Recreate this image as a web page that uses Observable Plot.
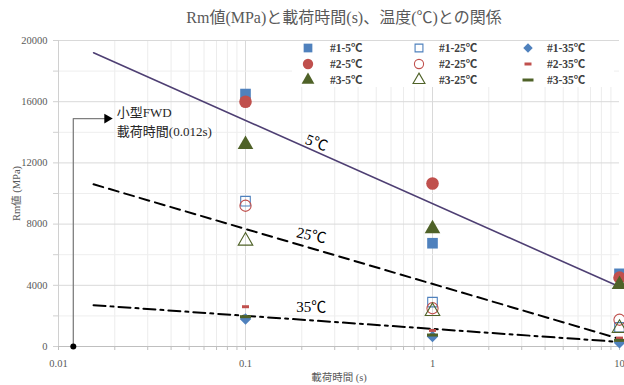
<!DOCTYPE html>
<html><head><meta charset="utf-8">
<script src="https://cdn.jsdelivr.net/npm/d3@7"></script>
<script src="https://cdn.jsdelivr.net/npm/@observablehq/plot@0.6"></script>
<style>
body{margin:0;background:#fff;}
#wrap{position:relative;width:624px;height:385px;font-family:"Liberation Serif","Noto Sans CJK JP",serif;overflow:hidden;}
#title{height:30px;line-height:36px;text-align:center;font-size:16px;color:#595959;padding-left:64px;box-sizing:border-box;white-space:nowrap;}
#legend{position:absolute;left:292px;top:41px;width:322px;height:46px;background:#fff;}
.item{position:absolute;height:16px;line-height:16px;font-size:11.5px;font-weight:bold;color:#404040;white-space:nowrap;font-family:"Liberation Serif","Noto Sans CJK JP",serif;}
.sym{position:absolute;width:16px;height:16px;}
</style></head>
<body><div id="wrap"><div id="title">Rm値(MPa)と載荷時間(s)、温度(℃)との関係</div><div id="chart"></div><div id="legend"></div></div>
<script>
// ---- data ----
const times = [0.1, 1, 10];
const s1_5  = [16500, 6750, 4750];
const s2_5  = [16000, 10650, 4500];
const s3_5  = [13200, 7700, 4050];
const s1_25 = [9500, 2900, 1250];
const s2_25 = [9200, 2500, 1750];
const s3_25 = [6900, 2300, 1200];
const s1_35 = [1800, 650, 250];
const s2_35 = [2600, 1050, 550];
const s3_35 = [1950, 750, 400];

const trendX  = [0.0154, 10];
const trend5  = [19200, 3900];
const trend25 = [10600, 500];
const trend35 = [2700, 300];

const lineLabels = ["5℃", "25℃", "35℃"];
const lineLabelX = [0.24, 0.225, 0.225];
const lineLabelY = [13300, 7250, 2600];
const lineLabelRotate = [22, 13, 0];

const fwdX = [0.012, 0.012, 0.0182];
const fwdY = [0, 14900, 14900];
const fwdText = "小型FWD\n載荷時間(0.012s)";
const fwdTextX = 0.0205;
const fwdTextY = 14750;

const xTicks = [0.01, 0.1, 1, 10];
const xTickLabels = ["0.01", "0.1", "1", "10"];
const yTicks = [0, 4000, 8000, 12000, 16000, 20000];
const yMinor = [2000, 6000, 10000, 14000, 18000];
const xMinor = [];
for (const d of [0.01, 0.1, 1]) for (let k = 2; k <= 9; k++) xMinor.push(d * k);

// ---- styles ----
const BLUE = "#4F81BD", RED = "#C0504D", GREEN = "#4F6228";
function dashSymbol(w, h) {
  return {draw(ctx, size) { ctx.rect(-w / 2, -h / 2, w, h); }};
}
const series = [
  {name: "#1-5℃",  values: s1_5,  symbol: "square",   fill: BLUE,  stroke: "none", r: 6},
  {name: "#1-25℃", values: s1_25, symbol: "square",   fill: "none", stroke: BLUE, r: 5.4},
  {name: "#1-35℃", values: s1_35, symbol: "diamond2", fill: BLUE,  stroke: "none", r: 5.2},
  {name: "#2-5℃",  values: s2_5,  symbol: "circle",   fill: RED,   stroke: "none", r: 6.3},
  {name: "#2-25℃", values: s2_25, symbol: "circle",   fill: "none", stroke: RED,  r: 5.6},
  {name: "#2-35℃", values: s2_35, symbol: dashSymbol(7, 3), fill: RED, stroke: "none", r: 5},
  {name: "#3-5℃",  values: s3_5,  symbol: "triangle", fill: GREEN, stroke: "none", r: 5.8},
  {name: "#3-25℃", values: s3_25, symbol: "triangle", fill: "none", stroke: GREEN, r: 5.4},
  {name: "#3-35℃", values: s3_35, symbol: dashSymbol(11, 3), fill: GREEN, stroke: "none", r: 5}
];

const pts = (xs, ys) => xs.map((x, i) => ({x, y: ys[i]}));

const chart = Plot.plot({
  width: 624, height: 355,
  marginLeft: 58, marginRight: 5, marginTop: 10, marginBottom: 39,
  x: {type: "log", domain: [0.01, 10]},
  y: {domain: [0, 20000]},
  style: {fontFamily: '"Liberation Serif","Noto Sans CJK JP",serif', fontSize: "10.5px", color: "#595959", background: "white", overflow: "visible"},
  marks: [
    Plot.gridX(xMinor, {stroke: "#ececec", strokeOpacity: 1}),
    Plot.gridX(xTicks.slice(1, 3), {stroke: "#d9d9d9", strokeOpacity: 1}),
    Plot.gridY(yMinor, {stroke: "#eeeeee", strokeOpacity: 1}),
    Plot.gridY(yTicks.slice(1), {stroke: "#d9d9d9", strokeOpacity: 1}),
    Plot.ruleX([0.01], {stroke: "#d0d0d0"}),
    Plot.ruleY([0], {stroke: "#bfbfbf"}),
    Plot.axisX(xMinor, {tickFormat: () => "", tickSize: 4, stroke: "#bfbfbf", label: null}),
    Plot.axisX(xTicks, {tickFormat: d => xTickLabels[xTicks.indexOf(d)], tickSize: 4, tickPadding: 9, stroke: "#bfbfbf", fill: "#595959",
      label: "載荷時間 (s)", labelAnchor: "center", labelArrow: "none", labelOffset: 34}),
    Plot.axisY(yMinor, {tickFormat: () => "", tickSize: 5, stroke: "#d0d0d0", label: null}),
    Plot.axisY(yTicks, {tickFormat: d => String(d), tickSize: 5, tickPadding: 6, stroke: "#d0d0d0", fill: "#595959",
      label: "Rm値 (MPa)", labelAnchor: "center", labelArrow: "none", labelOffset: 46}),
    // trend lines
    Plot.line(pts(trendX, trend5), {x: "x", y: "y", stroke: "#4e3f73", strokeWidth: 1.6}),
    Plot.line(pts(trendX, trend25), {x: "x", y: "y", stroke: "#000", strokeWidth: 2, strokeDasharray: "10,6"}),
    Plot.line(pts(trendX, trend35), {x: "x", y: "y", stroke: "#000", strokeWidth: 2, strokeDasharray: "12,5,3,5"}),
    // data markers
    ...series.map(s => Plot.dot(pts(times, s.values), {x: "x", y: "y", symbol: s.symbol, r: s.r, fill: s.fill, stroke: s.stroke, strokeWidth: 1.1})),
    // line labels
    ...lineLabels.map((t, i) => Plot.text([{x: lineLabelX[i], y: lineLabelY[i]}], {x: "x", y: "y", text: () => t, rotate: lineLabelRotate[i], fontSize: 15, fill: "#000"})),
    // FWD annotation
    Plot.line(pts(fwdX, fwdY), {x: "x", y: "y", stroke: "#7f7f7f", strokeWidth: 1.3}),
    Plot.dot([{x: fwdX[2], y: fwdY[2]}], {x: "x", y: "y", symbol: "triangle", rotate: 90, r: 3.6, fill: "#000", stroke: "none"}),
    Plot.dot([{x: fwdX[0], y: fwdY[0]}], {x: "x", y: "y", r: 3, fill: "#000", stroke: "none"}),
    Plot.text([{x: fwdTextX, y: fwdTextY}], {x: "x", y: "y", text: () => fwdText, textAnchor: "start", lineAnchor: "middle", lineHeight: 1.45, fontSize: 13, fill: "#262626"})
  ]
});
document.getElementById("chart").appendChild(chart);

// ---- legend ----
const legend = document.getElementById("legend");
const colX = [16, 127, 236], textX = [38, 147, 255], rowY = [7, 23, 39];
const symMap = {square: d3.symbolSquare, circle: d3.symbolCircle, triangle: d3.symbolTriangle, diamond2: d3.symbolDiamond2};
series.forEach((s, i) => {
  const col = i % 3, row = Math.floor(i / 3);
  const svg = d3.create("svg").attr("class", "sym").attr("width", 16).attr("height", 16)
    .style("left", (colX[col] - 8) + "px").style("top", (rowY[row] - 8) + "px");
  const symType = typeof s.symbol === "string" ? symMap[s.symbol] : s.symbol;
  const rr = s.r * 0.82;
  svg.append("path").attr("transform", "translate(8,8)")
    .attr("d", d3.symbol(symType, rr * rr * Math.PI)())
    .attr("fill", s.fill).attr("stroke", s.stroke).attr("stroke-width", 1.1);
  legend.appendChild(svg.node());
  const div = document.createElement("div");
  div.className = "item";
  div.style.left = textX[col] + "px";
  div.style.top = (rowY[row] - 8) + "px";
  div.textContent = s.name;
  legend.appendChild(div);
});
</script></body></html>
